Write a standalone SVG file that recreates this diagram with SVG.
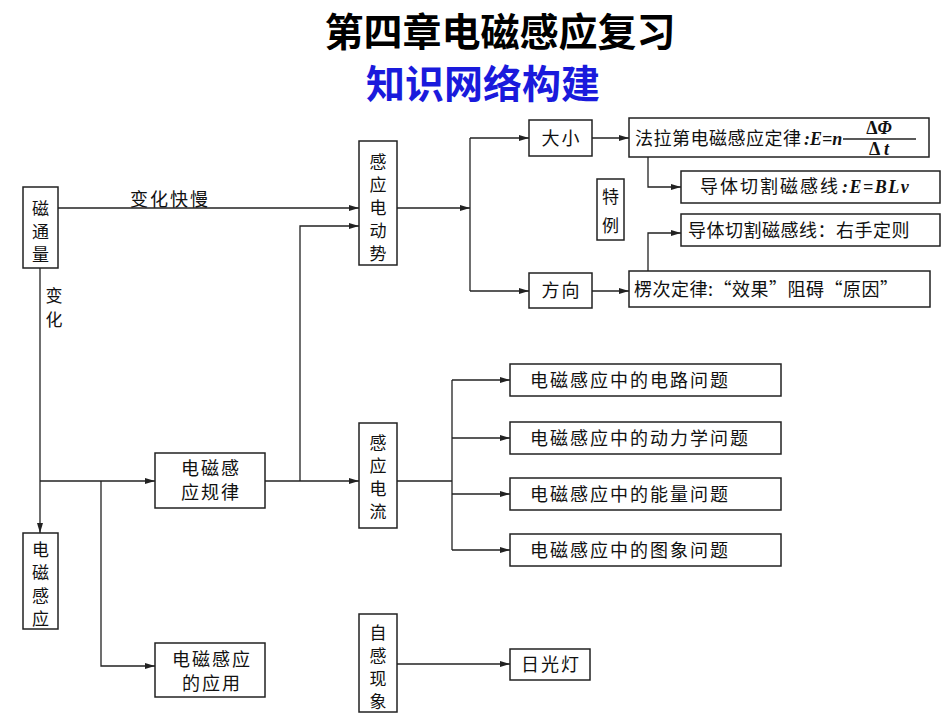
<svg xmlns="http://www.w3.org/2000/svg" width="950" height="713" viewBox="0 0 950 713">
<style>
.b{fill:#fff;stroke:#222;stroke-width:1.5}
.t{font-family:"Noto Sans CJK SC",sans-serif;font-size:18px;fill:#111;letter-spacing:2px}
.v{font-family:"Noto Sans CJK SC",sans-serif;font-size:17px;fill:#111;text-anchor:middle}
.m{font-family:"Liberation Serif",serif;font-size:18px;font-weight:bold;font-style:italic;fill:#111}
.c{fill:none;stroke:#222;stroke-width:1.3;marker-end:url(#a)}
.l{fill:none;stroke:#222;stroke-width:1.3}
</style>
<defs><marker id="a" markerWidth="10" markerHeight="6" refX="10" refY="3" orient="auto" markerUnits="userSpaceOnUse"><path d="M0,0 L10,3 L0,6 z" fill="#222"/></marker></defs>
<rect width="950" height="713" fill="#fff"/>
<text x="500" y="46" text-anchor="middle" style="font-family:'Noto Sans CJK SC',sans-serif;font-size:39px;font-weight:bold">第四章电磁感应复习</text>
<text x="483" y="98" text-anchor="middle" style="font-family:'Noto Sans CJK SC',sans-serif;font-size:39px;font-weight:bold;fill:#1a1adc">知识网络构建</text>
<g id="connectors">
<path class="c" d="M58,208 H359"/>
<path class="c" d="M40,268 V533"/>
<path class="c" d="M40,481 H155"/>
<path class="c" d="M101,481 V666 H155"/>
<path class="c" d="M265,481 H359"/>
<path class="c" d="M300,481 V226 H359"/>
<path class="c" d="M397,208 H470"/>
<path class="l" d="M470,138 V291"/>
<path class="c" d="M470,138 H529"/>
<path class="c" d="M470,291 H529"/>
<path class="c" d="M592,138 H629"/>
<path class="c" d="M592,291 H629"/>
<path class="c" d="M648,157 V187 H681"/>
<path class="c" d="M648,271 V233 H681"/>
<path class="l" d="M397,481 H452 M452,380 V550"/>
<path class="c" d="M452,380 H510"/>
<path class="c" d="M452,438 H510"/>
<path class="c" d="M452,494 H510"/>
<path class="c" d="M452,550 H510"/>
<path class="c" d="M397,664 H510"/>
<text class="t" x="130" y="206">变化快慢</text>
<text class="v" x="54" y="302">变</text>
<text class="v" x="54" y="326">化</text>
</g>
<g id="n1"><rect class="b" x="23" y="187" width="35" height="81"/><text class="v" x="40.5" y="215">磁</text><text class="v" x="40.5" y="238">通</text><text class="v" x="40.5" y="261">量</text></g>
<g id="n2"><rect class="b" x="359" y="141" width="38" height="124"/><text class="v" x="378" y="168">感</text><text class="v" x="378" y="191">应</text><text class="v" x="378" y="214">电</text><text class="v" x="378" y="237">动</text><text class="v" x="378" y="260">势</text></g>
<g id="n3"><rect class="b" x="529" y="120" width="63" height="36"/><text class="t" x="561.5" y="145" text-anchor="middle">大小</text></g>
<g id="n4"><rect class="b" x="529" y="273" width="63" height="35"/><text class="t" x="561.5" y="297" text-anchor="middle">方向</text></g>
<g id="n5"><rect class="b" x="629" y="118" width="300" height="39"/><text class="t" x="635" y="145" style="letter-spacing:0.5px">法拉第电磁感应定律</text><text class="m" x="804" y="145">:E=n</text><line x1="843" y1="139" x2="916" y2="139" stroke="#222" stroke-width="1.3"/><text class="m" x="879" y="134" text-anchor="middle" style="font-style:normal">Δ<tspan font-style="italic">Φ</tspan></text><text class="m" x="879" y="155" text-anchor="middle" style="font-style:normal">Δ <tspan font-style="italic">t</tspan></text></g>
<g id="n6"><rect class="b" x="681" y="171" width="259" height="32"/><text class="t" x="700" y="193">导体切割磁感线</text><text class="m" x="842" y="193" style="letter-spacing:1.5px">:E=BLv</text></g>
<g id="n7"><rect class="b" x="597" y="179" width="27" height="61"/><text class="v" x="610.5" y="203">特</text><text class="v" x="610.5" y="232">例</text></g>
<g id="n8"><rect class="b" x="681" y="214" width="259" height="32"/><text class="t" x="688" y="237" style="letter-spacing:0.5px">导体切割磁感线：右手定则</text></g>
<g id="n9"><rect class="b" x="629" y="271" width="301" height="36"/><text class="t" x="634" y="296" style="letter-spacing:0.5px">楞次定律:“效果”阻碍“原因”</text></g>
<g id="n10"><rect class="b" x="155" y="453" width="110" height="55"/><text class="t" x="211" y="475" text-anchor="middle">电磁感</text><text class="t" x="211" y="499" text-anchor="middle">应规律</text></g>
<g id="n11"><rect class="b" x="359" y="423" width="38" height="105"/><text class="v" x="378" y="449">感</text><text class="v" x="378" y="472">应</text><text class="v" x="378" y="495">电</text><text class="v" x="378" y="518">流</text></g>
<g id="n12"><rect class="b" x="510" y="364" width="271" height="32"/><text class="t" x="530" y="387">电磁感应中的电路问题</text></g>
<g id="n13"><rect class="b" x="510" y="422" width="271" height="32"/><text class="t" x="530" y="445">电磁感应中的动力学问题</text></g>
<g id="n14"><rect class="b" x="510" y="478" width="271" height="32"/><text class="t" x="530" y="501">电磁感应中的能量问题</text></g>
<g id="n15"><rect class="b" x="510" y="534" width="271" height="32"/><text class="t" x="530" y="557">电磁感应中的图象问题</text></g>
<g id="n16"><rect class="b" x="23" y="533" width="35" height="96"/><text class="v" x="40.5" y="556">电</text><text class="v" x="40.5" y="579">磁</text><text class="v" x="40.5" y="602">感</text><text class="v" x="40.5" y="625">应</text></g>
<g id="n17"><rect class="b" x="155" y="643" width="110" height="54"/><text class="t" x="212" y="666" text-anchor="middle">电磁感应</text><text class="t" x="212" y="690" text-anchor="middle">的应用</text></g>
<g id="n18"><rect class="b" x="359" y="614" width="38" height="98"/><text class="v" x="378" y="639">自</text><text class="v" x="378" y="662">感</text><text class="v" x="378" y="685">现</text><text class="v" x="378" y="708">象</text></g>
<g id="n19"><rect class="b" x="510" y="649" width="80" height="31"/><text class="t" x="551" y="671" text-anchor="middle">日光灯</text></g>
</svg>
